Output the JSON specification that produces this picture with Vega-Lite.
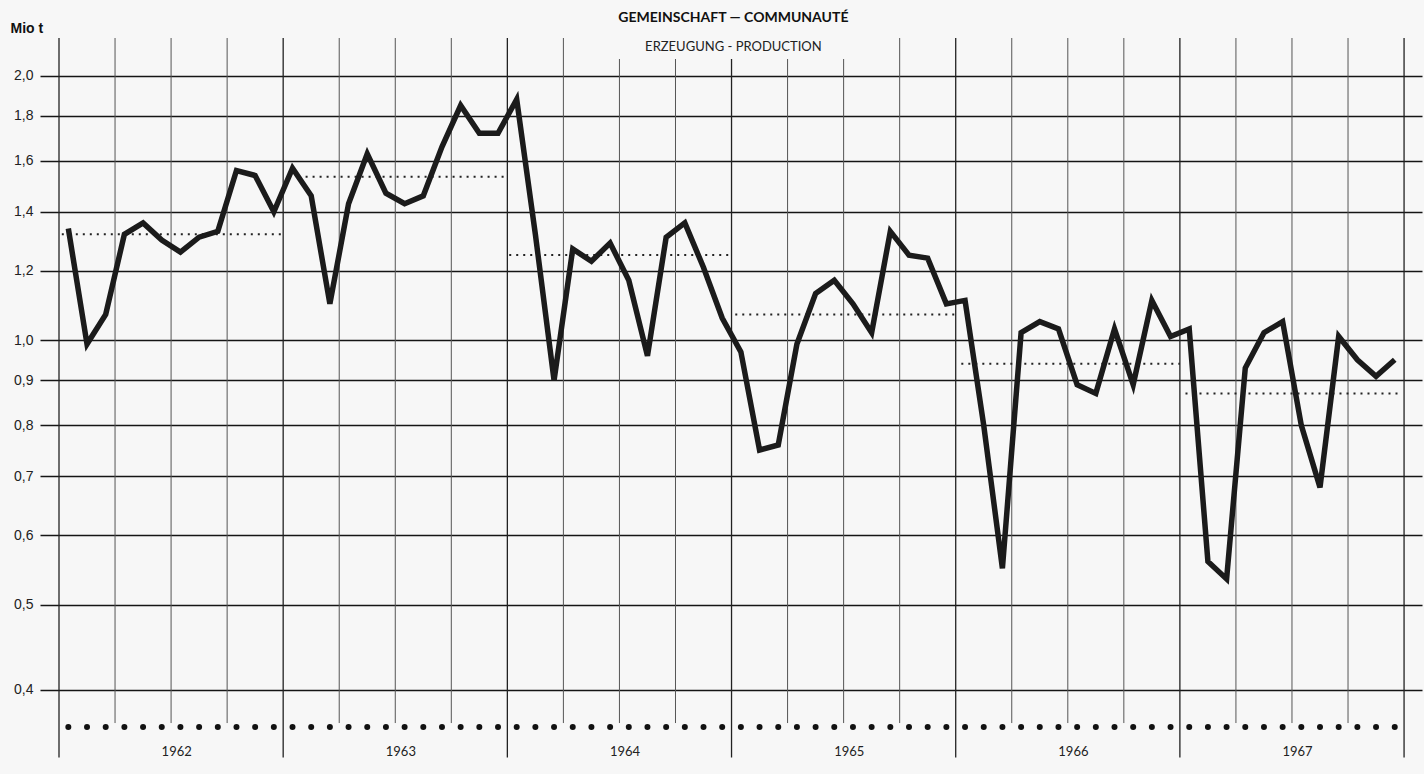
{
  "$schema": "https://vega.github.io/schema/vega-lite/v6.json",
  "width": 1382,
  "height": 724,
  "autosize": {"type": "none"},
  "padding": {"left": 40, "top": 38, "right": 2, "bottom": 12},
  "background": "#f7f7f7",
  "config": {"view": {"stroke": null}},
  "datasets": {
    "months": [
      {"t": 0.5, "v": 1.34}, {"t": 1.5, "v": 0.99}, {"t": 2.5, "v": 1.07}, {"t": 3.5, "v": 1.32}, {"t": 4.5, "v": 1.36}, {"t": 5.5, "v": 1.30},
      {"t": 6.5, "v": 1.26}, {"t": 7.5, "v": 1.31}, {"t": 8.5, "v": 1.33}, {"t": 9.5, "v": 1.56}, {"t": 10.5, "v": 1.54}, {"t": 11.5, "v": 1.40},
      {"t": 12.5, "v": 1.57}, {"t": 13.5, "v": 1.46}, {"t": 14.5, "v": 1.10}, {"t": 15.5, "v": 1.43}, {"t": 16.5, "v": 1.63}, {"t": 17.5, "v": 1.47},
      {"t": 18.5, "v": 1.43}, {"t": 19.5, "v": 1.46}, {"t": 20.5, "v": 1.66}, {"t": 21.5, "v": 1.85}, {"t": 22.5, "v": 1.72}, {"t": 23.5, "v": 1.72},
      {"t": 24.5, "v": 1.88}, {"t": 25.5, "v": 1.32}, {"t": 26.5, "v": 0.90}, {"t": 27.5, "v": 1.27}, {"t": 28.5, "v": 1.23}, {"t": 29.5, "v": 1.29},
      {"t": 30.5, "v": 1.17}, {"t": 31.5, "v": 0.96}, {"t": 32.5, "v": 1.31}, {"t": 33.5, "v": 1.36}, {"t": 34.5, "v": 1.21}, {"t": 35.5, "v": 1.06},
      {"t": 36.5, "v": 0.97}, {"t": 37.5, "v": 0.75}, {"t": 38.5, "v": 0.76}, {"t": 39.5, "v": 0.99}, {"t": 40.5, "v": 1.13}, {"t": 41.5, "v": 1.17},
      {"t": 42.5, "v": 1.10}, {"t": 43.5, "v": 1.02}, {"t": 44.5, "v": 1.33}, {"t": 45.5, "v": 1.25}, {"t": 46.5, "v": 1.24}, {"t": 47.5, "v": 1.10},
      {"t": 48.5, "v": 1.11}, {"t": 49.5, "v": 0.80}, {"t": 50.5, "v": 0.55}, {"t": 51.5, "v": 1.02}, {"t": 52.5, "v": 1.05}, {"t": 53.5, "v": 1.03},
      {"t": 54.5, "v": 0.89}, {"t": 55.5, "v": 0.87}, {"t": 56.5, "v": 1.03}, {"t": 57.5, "v": 0.89}, {"t": 58.5, "v": 1.11}, {"t": 59.5, "v": 1.01},
      {"t": 60.5, "v": 1.03}, {"t": 61.5, "v": 0.56}, {"t": 62.5, "v": 0.535}, {"t": 63.5, "v": 0.93}, {"t": 64.5, "v": 1.02}, {"t": 65.5, "v": 1.05},
      {"t": 66.5, "v": 0.80}, {"t": 67.5, "v": 0.68}, {"t": 68.5, "v": 1.01}, {"t": 69.5, "v": 0.95}, {"t": 70.5, "v": 0.91}, {"t": 71.5, "v": 0.95}
    ],
    "avg": [
      {"year": "1962", "t0": 0.15, "t1": 12.1, "v": 1.32},
      {"year": "1963", "t0": 13.2, "t1": 23.9, "v": 1.535},
      {"year": "1964", "t0": 24.1, "t1": 36.0, "v": 1.25},
      {"year": "1965", "t0": 36.2, "t1": 48.0, "v": 1.07},
      {"year": "1966", "t0": 48.3, "t1": 60.0, "v": 0.94},
      {"year": "1967", "t0": 60.3, "t1": 71.9, "v": 0.87}
    ],
    "quarters": [
      {"t": 3}, {"t": 6}, {"t": 9}, {"t": 15}, {"t": 18}, {"t": 21}, {"t": 27}, {"t": 30}, {"t": 33},
      {"t": 39}, {"t": 42}, {"t": 45}, {"t": 51}, {"t": 54}, {"t": 57}, {"t": 63}, {"t": 66}, {"t": 69}
    ],
    "years": [{"t": 0}, {"t": 12}, {"t": 24}, {"t": 36}, {"t": 48}, {"t": 60}, {"t": 72}],
    "labels": [
      {"t": 6.3, "label": "1962"}, {"t": 18.3, "label": "1963"}, {"t": 30.3, "label": "1964"},
      {"t": 42.3, "label": "1965"}, {"t": 54.3, "label": "1966"}, {"t": 66.3, "label": "1967"}
    ]
  },
  "layer": [
    {
      "data": {"name": "months"},
      "mark": {"type": "line", "color": "#1b1b1b", "strokeWidth": 5.5, "opacity": 0},
      "encoding": {
        "x": {"field": "t", "type": "quantitative", "scale": {"domain": [-1.017, 72.96], "nice": false, "zero": false}, "axis": null},
        "y": {"field": "v", "type": "quantitative", "scale": {"type": "log", "domain": [0.3311, 2.208], "nice": false},
          "axis": {"title": "Mio t", "titleAngle": 0, "titleAlign": "left", "titleBaseline": "middle", "titleX": -30, "titleY": -10,
            "titleFont": "Liberation Sans", "titleFontSize": 14, "titleFontWeight": "bold", "titleColor": "#111",
            "values": [0.4, 0.5, 0.6, 0.7, 0.8, 0.9, 1.0, 1.2, 1.4, 1.6, 1.8, 2.0],
            "labelExpr": "replace(format(datum.value, '.1f'), '.', ',')",
            "labelFont": "Liberation Sans", "labelFontSize": 14, "labelColor": "#222", "labelPadding": 7,
            "ticks": false, "domain": false, "grid": true, "gridColor": "#151515", "gridWidth": 1.7, "gridOpacity": 1}}
      }
    },
    {
      "data": {"name": "quarters"},
      "mark": {"type": "rule", "color": "#555", "strokeWidth": 1},
      "encoding": {
        "x": {"field": "t", "type": "quantitative", "scale": {"domain": [-1.017, 72.96], "nice": false, "zero": false}, "axis": null},
        "y": {"datum": 2.208, "type": "quantitative", "scale": {"type": "log", "domain": [0.3311, 2.208], "nice": false}},
        "y2": {"datum": 0.3667}
      }
    },
    {
      "data": {"name": "years"},
      "mark": {"type": "rule", "color": "#222", "strokeWidth": 1.3},
      "encoding": {
        "x": {"field": "t", "type": "quantitative", "scale": {"domain": [-1.017, 72.96], "nice": false, "zero": false}, "axis": null},
        "y": {"datum": 2.208, "type": "quantitative", "scale": {"type": "log", "domain": [0.3311, 2.208], "nice": false}},
        "y2": {"datum": 0.335}
      }
    },
    {
      "data": {"values": [{}]},
      "mark": {"type": "rect", "color": "#f7f7f7"},
      "encoding": {
        "x": {"datum": 29.3, "type": "quantitative", "scale": {"domain": [-1.017, 72.96], "nice": false, "zero": false}, "axis": null},
        "x2": {"datum": 42.8},
        "y": {"datum": 2.208, "type": "quantitative", "scale": {"type": "log", "domain": [0.3311, 2.208], "nice": false}},
        "y2": {"datum": 2.09}
      }
    },
    {
      "data": {"values": [{}]},
      "mark": {"type": "text", "text": "ERZEUGUNG - PRODUCTION", "font": "Lato", "fontSize": 13, "color": "#222", "baseline": "middle", "align": "center"},
      "encoding": {
        "x": {"datum": 36.1, "type": "quantitative", "scale": {"domain": [-1.017, 72.96], "nice": false, "zero": false}, "axis": null},
        "y": {"datum": 2.157, "type": "quantitative", "scale": {"type": "log", "domain": [0.3311, 2.208], "nice": false}}
      }
    },
    {
      "data": {"values": [{}]},
      "mark": {"type": "text", "text": "GEMEINSCHAFT — COMMUNAUTÉ", "font": "Lato", "fontSize": 14, "fontWeight": "bold", "color": "#111", "baseline": "middle", "align": "center"},
      "encoding": {
        "x": {"datum": 36.1, "type": "quantitative", "scale": {"domain": [-1.017, 72.96], "nice": false, "zero": false}, "axis": null},
        "y": {"datum": 2.326, "type": "quantitative", "scale": {"type": "log", "domain": [0.3311, 2.208], "nice": false}}
      }
    },
    {
      "data": {"name": "avg"},
      "mark": {"type": "rule", "color": "#222", "strokeWidth": 2, "strokeDash": [2, 5]},
      "encoding": {
        "x": {"field": "t0", "type": "quantitative", "scale": {"domain": [-1.017, 72.96], "nice": false, "zero": false}, "axis": null},
        "x2": {"field": "t1"},
        "y": {"field": "v", "type": "quantitative", "scale": {"type": "log", "domain": [0.3311, 2.208], "nice": false}}
      }
    },
    {
      "data": {"name": "months"},
      "mark": {"type": "line", "color": "#1b1b1b", "strokeWidth": 5.5, "strokeJoin": "miter", "strokeCap": "butt"},
      "encoding": {
        "x": {"field": "t", "type": "quantitative", "scale": {"domain": [-1.017, 72.96], "nice": false, "zero": false}, "axis": null},
        "y": {"field": "v", "type": "quantitative", "scale": {"type": "log", "domain": [0.3311, 2.208], "nice": false}}
      }
    },
    {
      "data": {"name": "months"},
      "mark": {"type": "circle", "color": "#111", "size": 36, "opacity": 1},
      "encoding": {
        "x": {"field": "t", "type": "quantitative", "scale": {"domain": [-1.017, 72.96], "nice": false, "zero": false}, "axis": null},
        "y": {"datum": 0.3628, "type": "quantitative", "scale": {"type": "log", "domain": [0.3311, 2.208], "nice": false}}
      }
    },
    {
      "data": {"name": "labels"},
      "mark": {"type": "text", "font": "Lato", "fontSize": 13, "color": "#222", "baseline": "middle", "align": "center"},
      "encoding": {
        "x": {"field": "t", "type": "quantitative", "scale": {"domain": [-1.017, 72.96], "nice": false, "zero": false}, "axis": null},
        "y": {"datum": 0.3396, "type": "quantitative", "scale": {"type": "log", "domain": [0.3311, 2.208], "nice": false}},
        "text": {"field": "label"}
      }
    }
  ]
}
